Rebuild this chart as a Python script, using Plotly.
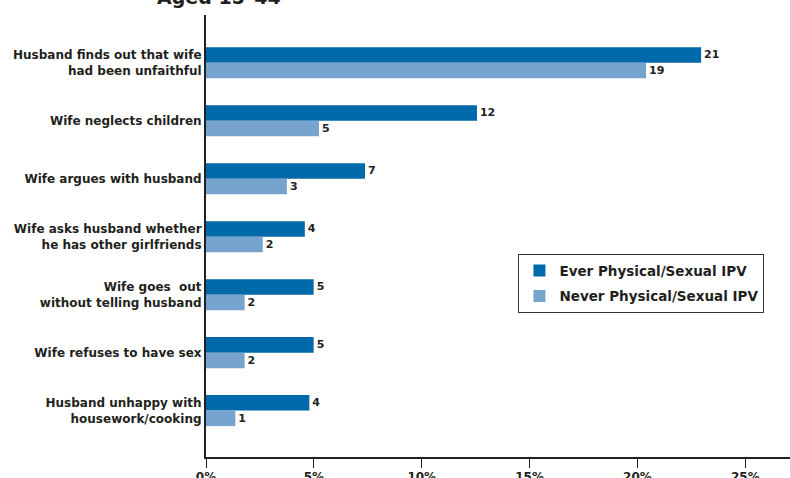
import plotly.graph_objects as go

categories = [
    "Husband finds out that wife<br>had been unfaithful",
    "Wife neglects children",
    "Wife argues with husband",
    "Wife asks husband whether<br>he has other girlfriends",
    "Wife goes  out<br>without telling husband",
    "Wife refuses to have sex",
    "Husband unhappy with<br>housework/cooking",
]
ever_values = [22.95, 12.56, 7.37, 4.58, 4.99, 4.99, 4.79]
never_values = [20.4, 5.24, 3.75, 2.63, 1.79, 1.79, 1.36]
ever_labels = ["21", "12", "7", "4", "5", "5", "4"]
never_labels = ["19", "5", "3", "2", "2", "2", "1"]
x_ticks = [0, 5, 10, 15, 20, 25]
x_ticklabels = ["0%", "5%", "10%", "15%", "20%", "25%"]

DARK = "#0069aa"
LIGHT = "#77a3cf"
TXT = "#231f20"
FONT = "DejaVu Sans"

fig = go.Figure()
fig.add_trace(go.Bar(
    y=categories, x=ever_values, orientation="h", name="Ever Physical/Sexual IPV",
    legendgroup="ever",
    marker=dict(color=DARK, line=dict(width=0)),
    text=ever_labels, textposition="outside", cliponaxis=False,
    textfont=dict(family=FONT, size=11, color=TXT, weight="bold"),
))
fig.add_trace(go.Bar(
    y=categories, x=never_values, orientation="h", name="Never Physical/Sexual IPV",
    legendgroup="never",
    marker=dict(color=LIGHT, line=dict(width=0)),
    text=never_labels, textposition="outside", cliponaxis=False,
    textfont=dict(family=FONT, size=11, color=TXT, weight="bold"),
))

fig.update_layout(
    width=790, height=478,
    margin=dict(l=206, r=0, t=15, b=21),
    paper_bgcolor="white", plot_bgcolor="white",
    barmode="group", bargap=0.465, bargroupgap=0,
    font=dict(family=FONT, color=TXT),
    showlegend=True,
    legend=dict(
        x=0.535, y=0.459, xanchor="left", yanchor="top",
        bgcolor="white", bordercolor="#333333", borderwidth=1,
        font=dict(family=FONT, size=13.5, color=TXT, weight="bold"),
        tracegroupgap=5, itemwidth=30,
    ),
    xaxis=dict(
        range=[0, 27.07], tickvals=x_ticks, ticktext=x_ticklabels,
        showgrid=False, zeroline=False, automargin=False,
        showline=True, linecolor=TXT, linewidth=2,
        ticks="outside", ticklen=9, tickwidth=1, tickcolor=TXT,
        ticklabelstandoff=-1,
        tickfont=dict(family=FONT, size=12, color=TXT, weight="bold"),
    ),
    yaxis=dict(
        type="category", categoryorder="array", categoryarray=categories,
        range=[6.80, -0.823], automargin=False,
        showgrid=False, zeroline=False,
        showline=True, linecolor=TXT, linewidth=2,
        ticks="", ticklabelstandoff=0,
        tickfont=dict(family=FONT, size=12, color=TXT, weight="bold"),
    ),
    annotations=[dict(
        text="Aged 15–44", xref="paper", yref="paper",
        x=(219 - 206) / 584, y=1 + (15 - 9.5) / 442,
        xanchor="center", yanchor="bottom", showarrow=False,
        font=dict(family=FONT, size=19, color=TXT, weight="bold"),
    )],
)

fig.write_html(
    "out.html",
    config={"displayModeBar": False},
    post_script="document.body.style.margin='0';",
)
